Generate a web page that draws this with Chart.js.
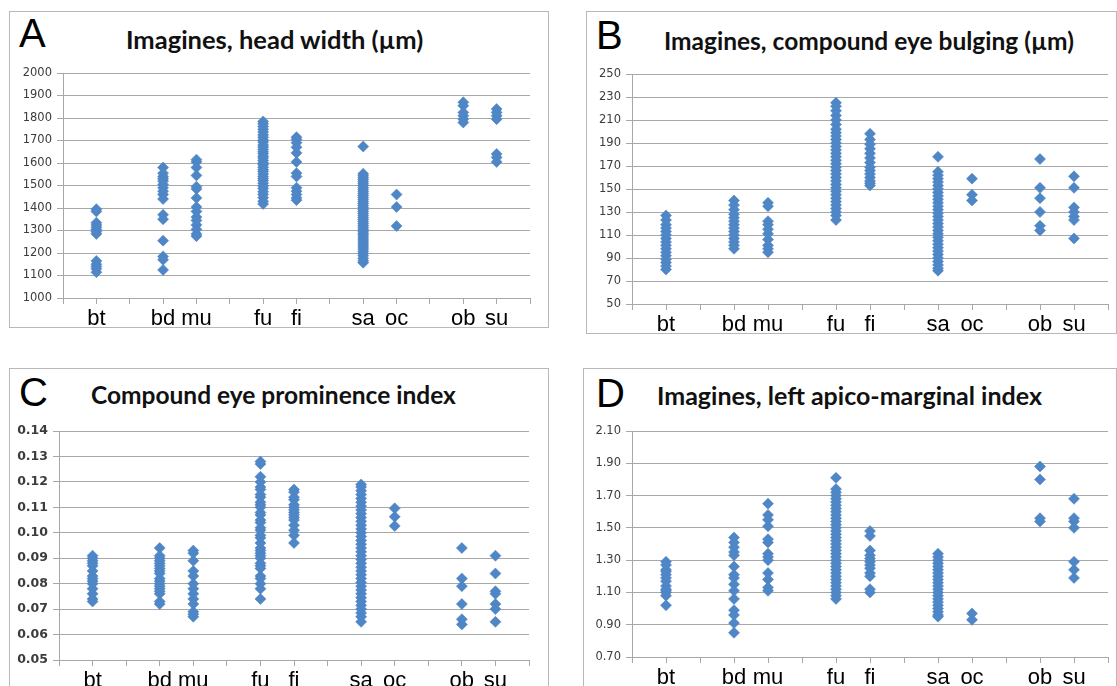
<!DOCTYPE html>
<html>
<head>
<meta charset="utf-8">
<script src="https://cdn.jsdelivr.net/npm/chart.js@4.4.1/dist/chart.umd.min.js"></script>
<style>
html, body { margin: 0; padding: 0; background: #fff; width: 1117px; height: 686px; overflow: hidden; }
.box { position: absolute; border: 1px solid #b8b8b8; box-sizing: border-box; }
canvas { position: absolute; }
.letter { position: absolute; font-family: "Liberation Sans", Arial, sans-serif; font-size: 40px; line-height: 40px; color: #000; }
.title { position: absolute; font-family: Lato, "Open Sans", sans-serif; font-weight: bold; font-size: 24.5px; line-height: 24px; color: #111; white-space: nowrap; }
</style>
</head>
<body>
<div class="box" style="left:9px;top:11px;width:540px;height:317px"></div>
<div class="box" style="left:586px;top:11px;width:531px;height:323px"></div>
<div class="box" style="left:9px;top:368px;width:540px;height:340px"></div>
<div class="box" style="left:583px;top:368px;width:534px;height:340px"></div>

<div class="letter" style="left:19px;top:13px">A</div>
<div class="title" style="left:126px;top:27px;font-size:25.5px">Imagines, head width (µm)</div>
<div class="letter" style="left:596px;top:15px">B</div>
<div class="title" style="left:664px;top:29px">Imagines, compound eye bulging (µm)</div>
<div class="letter" style="left:19px;top:372px">C</div>
<div class="title" style="left:91px;top:383px">Compound eye prominence index</div>
<div class="letter" style="left:596px;top:373px">D</div>
<div class="title" style="left:657px;top:383px;font-size:25px">Imagines, left apico-marginal index</div>

<canvas id="chartA"></canvas>
<canvas id="chartB"></canvas>
<canvas id="chartC"></canvas>
<canvas id="chartD"></canvas>

<script>
// categories and their x positions on the scatter axis
var categories = ['bt', 'bd', 'mu', 'fu', 'fi', 'sa', 'oc', 'ob', 'su'];
var categoryX = [1, 3, 4, 6, 7, 9, 10, 12, 13];

// A: head width (um)
var headWidth_bt = [1395, 1385, 1335, 1325, 1315, 1305, 1295, 1285, 1165, 1150, 1140, 1130, 1115];
var headWidth_bd = [1580, 1555, 1540, 1530, 1520, 1505, 1490, 1475, 1460, 1440, 1370, 1350, 1255, 1185, 1170, 1125];
var headWidth_mu = [1615, 1605, 1580, 1545, 1495, 1485, 1445, 1405, 1385, 1360, 1345, 1325, 1305, 1285, 1275];
var headWidth_fu = [1785, 1775, 1762, 1750, 1738, 1725, 1714, 1702, 1693, 1680, 1671, 1660, 1650, 1641, 1630, 1622, 1611, 1600, 1592, 1581, 1570, 1562, 1551, 1540, 1531, 1522, 1510, 1498, 1487, 1472, 1460, 1446, 1430, 1418];
var headWidth_fi = [1715, 1705, 1690, 1670, 1645, 1605, 1555, 1540, 1490, 1475, 1460, 1445, 1435];
var headWidth_sa = [1673, 1552, 1543, 1534, 1526, 1517, 1508, 1500, 1490, 1481, 1472, 1463, 1455, 1446, 1437, 1428, 1420, 1411, 1402, 1393, 1385, 1376, 1367, 1358, 1350, 1341, 1332, 1323, 1315, 1306, 1297, 1288, 1280, 1271, 1262, 1253, 1245, 1236, 1227, 1218, 1208, 1198, 1188, 1176, 1165, 1157];
var headWidth_oc = [1460, 1405, 1320];
var headWidth_ob = [1870, 1855, 1825, 1810, 1795, 1780];
var headWidth_su = [1840, 1825, 1810, 1795, 1640, 1625, 1605];

// B: compound eye bulging (um)
var bulging_bt = [127, 123, 119, 116, 113, 110, 107, 104, 101, 98, 95, 92, 89, 86, 83, 80];
var bulging_bd = [140, 136, 132, 128, 125, 122, 119, 116, 113, 110, 107, 104, 101, 98];
var bulging_mu = [138, 135, 122, 119, 115, 111, 106, 101, 98, 95];
var bulging_fu = [225, 222, 218, 214, 210, 206, 202, 199, 196, 193, 190, 187, 184, 181, 178, 175, 172, 169, 166, 163, 160, 157, 154, 151, 148, 145, 142, 139, 136, 133, 130, 127, 123];
var bulging_fi = [198, 193, 189, 185, 181, 177, 173, 169, 166, 163, 160, 157, 155, 153];
var bulging_sa = [178, 165, 162, 159, 156, 153, 150, 147, 144, 141, 138, 135, 132, 129, 126, 123, 120, 117, 114, 111, 108, 105, 102, 99, 96, 93, 90, 87, 84, 81, 79];
var bulging_oc = [159, 145, 140];
var bulging_ob = [176, 151, 142, 130, 118, 114];
var bulging_su = [161, 151, 134, 130, 126, 123, 107];

// C: compound eye prominence index
var prominence_bt = [0.091, 0.090, 0.089, 0.088, 0.087, 0.085, 0.083, 0.082, 0.081, 0.080, 0.078, 0.076, 0.074, 0.073];
var prominence_bd = [0.094, 0.091, 0.090, 0.089, 0.088, 0.087, 0.086, 0.085, 0.084, 0.082, 0.081, 0.080, 0.079, 0.078, 0.077, 0.076, 0.073, 0.072];
var prominence_mu = [0.093, 0.092, 0.089, 0.085, 0.083, 0.080, 0.078, 0.076, 0.074, 0.072, 0.069, 0.068, 0.067];
var prominence_fu = [0.128, 0.127, 0.122, 0.120, 0.118, 0.117, 0.115, 0.114, 0.112, 0.111, 0.110, 0.108, 0.107, 0.105, 0.104, 0.102, 0.101, 0.099, 0.098, 0.096, 0.094, 0.093, 0.092, 0.091, 0.090, 0.088, 0.087, 0.086, 0.083, 0.082, 0.080, 0.078, 0.074];
var prominence_fi = [0.117, 0.116, 0.114, 0.113, 0.111, 0.110, 0.109, 0.108, 0.107, 0.106, 0.105, 0.103, 0.101, 0.099, 0.096];
var prominence_sa = [0.119, 0.118, 0.1165, 0.115, 0.1135, 0.112, 0.1105, 0.109, 0.1075, 0.106, 0.1045, 0.103, 0.1015, 0.100, 0.0985, 0.097, 0.0955, 0.094, 0.0925, 0.091, 0.0895, 0.088, 0.0865, 0.085, 0.0835, 0.082, 0.0805, 0.079, 0.0775, 0.076, 0.0745, 0.073, 0.0715, 0.070, 0.0685, 0.067, 0.065];
var prominence_oc = [0.1096, 0.1063, 0.1027];
var prominence_ob = [0.094, 0.082, 0.079, 0.072, 0.066, 0.064];
var prominence_su = [0.091, 0.084, 0.077, 0.076, 0.072, 0.070, 0.065];

// D: left apico-marginal index
var apico_bt = [1.29, 1.27, 1.24, 1.23, 1.21, 1.19, 1.17, 1.14, 1.12, 1.11, 1.10, 1.08, 1.02];
var apico_bd = [1.44, 1.41, 1.38, 1.35, 1.33, 1.26, 1.21, 1.19, 1.15, 1.11, 1.06, 0.99, 0.96, 0.91, 0.85];
var apico_mu = [1.65, 1.58, 1.55, 1.51, 1.43, 1.41, 1.34, 1.32, 1.30, 1.22, 1.18, 1.13, 1.11];
var apico_fu = [1.81, 1.74, 1.72, 1.70, 1.68, 1.66, 1.64, 1.62, 1.60, 1.58, 1.56, 1.54, 1.52, 1.50, 1.48, 1.46, 1.44, 1.42, 1.40, 1.38, 1.36, 1.34, 1.32, 1.30, 1.28, 1.26, 1.24, 1.22, 1.20, 1.18, 1.16, 1.14, 1.12, 1.10, 1.08, 1.06];
var apico_fi = [1.48, 1.45, 1.36, 1.33, 1.31, 1.29, 1.27, 1.25, 1.22, 1.20, 1.12, 1.10];
var apico_sa = [1.34, 1.32, 1.30, 1.28, 1.26, 1.24, 1.22, 1.20, 1.18, 1.16, 1.14, 1.12, 1.10, 1.08, 1.06, 1.04, 1.02, 1.00, 0.98, 0.96, 0.95];
var apico_oc = [0.97, 0.93];
var apico_ob = [1.88, 1.80, 1.56, 1.54];
var apico_su = [1.68, 1.56, 1.54, 1.50, 1.29, 1.24, 1.19];

var blue = '#4F86C6';
var gridColor = '#a8a8a8';

function toPoints(groups) {
  var pts = [];
  groups.forEach(function (vals, i) {
    vals.forEach(function (v) { pts.push({ x: categoryX[i], y: v }); });
  });
  return pts;
}

// box: canvas position on page [left, top, w, h]; area: plot area on page [left, top, right, bottom]
function makeChart(id, box, area, groups, yMin, yMax, yStep, digits, yFont) {
  var cv = document.getElementById(id);
  cv.style.left = box[0] + 'px';
  cv.style.top = box[1] + 'px';
  cv.width = box[2];
  cv.height = box[3];
  var yW = area[0] - box[0];
  var padRight = box[0] + box[2] - area[2];
  var padTop = area[1] - box[1];
  var xH = box[1] + box[3] - area[3];

  return new Chart(cv, {
    type: 'scatter',
    data: {
      datasets: [{
        data: toPoints(groups),
        pointStyle: 'rectRot',
        pointRadius: 5.5,
        pointHoverRadius: 5.5,
        pointBackgroundColor: blue,
        pointBorderColor: blue,
        pointBorderWidth: 0.6
      }]
    },
    options: {
      responsive: false,
      animation: false,
      devicePixelRatio: 1,
      events: [],
      layout: { padding: { left: 0, top: padTop, right: padRight, bottom: 0 } },
      plugins: { legend: { display: false }, tooltip: { enabled: false } },
      scales: {
        x: {
          type: 'linear', min: 0, max: 14,
          afterFit: function (s) { s.height = xH; },
          ticks: {
            stepSize: 1, autoSkip: false, maxRotation: 0, padding: 2,
            color: '#000',
            font: { family: '"Liberation Sans", Arial, sans-serif', size: 22 },
            callback: function (v) {
              var i = categoryX.indexOf(v);
              return i < 0 ? '' : categories[i];
            }
          },
          grid: { drawOnChartArea: false, drawTicks: true, tickLength: 6, color: gridColor },
          border: { color: gridColor }
        },
        y: {
          min: yMin, max: yMax,
          afterFit: function (s) { s.width = yW; },
          ticks: {
            stepSize: yStep, padding: 5, color: '#3c3c3c',
            font: yFont,
            callback: function (v) { return Number(v).toFixed(digits); }
          },
          grid: { color: gridColor, drawTicks: true, tickLength: 6 },
          border: { color: gridColor }
        }
      }
    }
  });
}

var tickFont = { family: '"DejaVu Sans", Verdana, sans-serif', size: 11.5 };
var tickFontBold = { family: '"DejaVu Sans", Verdana, sans-serif', size: 12.5, weight: 'bold' };

makeChart('chartA', [10, 12, 537, 314], [63, 73, 530, 298],
  [headWidth_bt, headWidth_bd, headWidth_mu, headWidth_fu, headWidth_fi, headWidth_sa, headWidth_oc, headWidth_ob, headWidth_su],
  1000, 2000, 100, 0, tickFont);

makeChart('chartB', [587, 12, 528, 320], [632, 74, 1108, 304],
  [bulging_bt, bulging_bd, bulging_mu, bulging_fu, bulging_fi, bulging_sa, bulging_oc, bulging_ob, bulging_su],
  50, 250, 20, 0, tickFont);

makeChart('chartC', [10, 369, 537, 330], [59, 431, 529, 660],
  [prominence_bt, prominence_bd, prominence_mu, prominence_fu, prominence_fi, prominence_sa, prominence_oc, prominence_ob, prominence_su],
  0.05, 0.14, 0.01, 2, tickFontBold);

makeChart('chartD', [584, 369, 531, 330], [632, 431, 1108, 657],
  [apico_bt, apico_bd, apico_mu, apico_fu, apico_fi, apico_sa, apico_oc, apico_ob, apico_su],
  0.7, 2.1, 0.2, 2, tickFont);
</script>
</body>
</html>
